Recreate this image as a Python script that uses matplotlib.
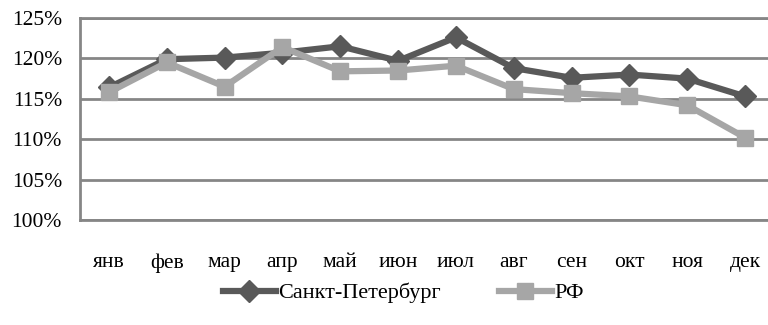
import matplotlib.pyplot as plt
from matplotlib.ticker import FuncFormatter

months = ['янв', 'фев', 'мар', 'апр', 'май', 'июн',
          'июл', 'авг', 'сен', 'окт', 'ноя', 'дек']
spb = [116.4, 119.9, 120.1, 120.7, 121.5, 119.7,
       122.6, 118.8, 117.6, 118.0, 117.5, 115.3]
rf = [115.8, 119.5, 116.5, 121.4, 118.4, 118.5,
      119.1, 116.2, 115.7, 115.3, 114.2, 110.2]

plt.rcParams['font.family'] = ['Liberation Serif', 'DejaVu Serif']

fig = plt.figure(figsize=(7.68, 3.25), dpi=100)
# plot area runs slightly past the right edge of the figure
ax = fig.add_axes([80 / 768, 1 - 220 / 325, 694 / 768, 202 / 325])

x = list(range(len(months)))
ax.plot(x, spb, color='#595959', lw=4.5, marker='D', ms=11,
        label='Санкт-Петербург', zorder=3)
ax.plot(x, rf, color='#a6a6a6', lw=4.5, marker='s', ms=12,
        label='РФ', zorder=4)

ax.set_xlim(-0.5, 11.5)
ax.set_ylim(100, 125)
ax.set_yticks([100, 105, 110, 115, 120, 125])
ax.yaxis.set_major_formatter(FuncFormatter(lambda v, p: f'{v:.0f}%'))
ax.set_xticks(x)
ax.set_xticklabels(months)

ax.grid(axis='y', color='#868686', lw=2)
ax.set_axisbelow(True)
for side in ['left', 'bottom', 'top']:
    ax.spines[side].set_color('#868686')
    ax.spines[side].set_linewidth(2)
ax.spines['right'].set_visible(False)
ax.tick_params(length=0, labelsize=15.5)
ax.tick_params(axis='y', pad=13)
ax.tick_params(axis='x', pad=24)

fig.legend(loc='center', bbox_to_anchor=(0.525, 1 - 293 / 325), ncol=2,
           frameon=False, fontsize=16, handlelength=2.4,
           columnspacing=2.6, handletextpad=0.1)

fig.savefig('out.png', dpi=100)
